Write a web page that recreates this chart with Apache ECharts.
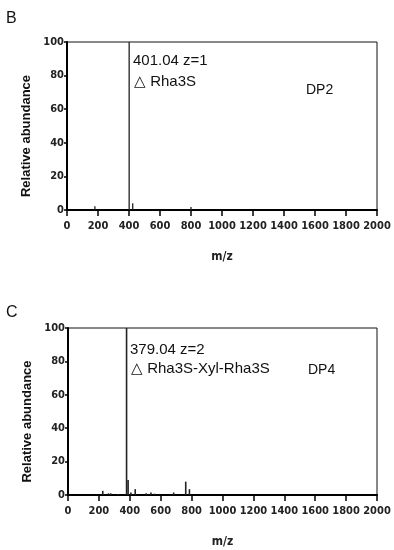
<!DOCTYPE html>
<html><head><meta charset="utf-8">
<script src="https://cdn.jsdelivr.net/npm/echarts@6/dist/echarts.min.js"></script>
<style>html,body{margin:0;padding:0;background:#fff}#c{width:394px;height:550px}</style>
</head><body><div id="c"></div>
<script>
// Data
const xTicks = [0,200,400,600,800,1000,1200,1400,1600,1800,2000];
const yTicks = [0,20,40,60,80,100];
const dp2MZ = [180, 401.04, 424, 800];
const dp2Abund = [2.2, 100, 4, 1.8];
const dp4MZ = [225, 262, 277, 325, 379.04, 389, 407, 435, 506, 537, 560, 684, 762, 786];
const dp4Abund = [2.5, 1, 1, 0.5, 100, 9, 1.5, 3.5, 1, 1.5, 0.8, 1.5, 8, 3.5];
const panelLabels = ['B','C'];
const peakTexts = [['401.04 z=1','\u25B3 Rha3S','DP2'],['379.04 z=2','\u25B3 Rha3S-Xyl-Rha3S','DP4']];

const condFont = '"Liberation Sans Narrow","DejaVu Sans Condensed",sans-serif';
const tickFont = {fontFamily:condFont, fontWeight:'bold', fontSize:11, color:'#222'};
function pairs(xs, ys){ return xs.map((x,i)=>[x, ys[i]]); }

const grids = [
  {left:67, top:42, width:310, height:168, show:true, borderColor:'#111', borderWidth:1},
  {left:68, top:328, width:309, height:167, show:true, borderColor:'#111', borderWidth:1}
];
function xAx(i){ return {type:'value', gridIndex:i, min:xTicks[0], max:xTicks[xTicks.length-1], interval:200,
  name:'m/z', nameLocation:'middle', nameGap:41,
  nameTextStyle:{fontFamily:condFont, fontWeight:'bold', fontSize:12, color:'#222'},
  axisLine:{show:true, onZero:false, lineStyle:{color:'#000', width:2}},
  axisTick:{show:true, inside:false, length:6, lineStyle:{color:'#000', width:1.5}},
  axisLabel:Object.assign({margin:11, formatter:function(v){return String(v);}}, tickFont), splitLine:{show:false}}; }
function yAx(i){ return {type:'value', gridIndex:i, min:yTicks[0], max:yTicks[yTicks.length-1], interval:20,
  name:'Relative abundance', nameLocation:'middle', nameRotate:90, nameGap:33,
  nameTextStyle:{fontFamily:'"Liberation Sans",Arial,sans-serif', fontWeight:'bold', fontSize:13, color:'#111', padding:[0,20,0,0]},
  axisLine:{show:true, lineStyle:{color:'#000', width:2}},
  axisTick:{show:true, inside:false, length:3, lineStyle:{color:'#000', width:1.5}},
  axisLabel:Object.assign({margin:3}, tickFont), splitLine:{show:false}}; }

const annFont = '"Liberation Sans",Arial,sans-serif';
const graphics = [
  {type:'text', left:6, top:11, style:{text:panelLabels[0], font:'16px '+annFont, fill:'#111'}},
  {type:'text', left:6, top:305, style:{text:panelLabels[1], font:'16px '+annFont, fill:'#111'}},
  {type:'text', left:133, top:53, style:{text:peakTexts[0][0], font:'15px '+annFont, fill:'#111'}},
  {type:'text', left:134, top:74, style:{text:peakTexts[0][1], font:'15px '+annFont, fill:'#111'}},
  {type:'text', left:306, top:83, style:{text:peakTexts[0][2], font:'14px '+annFont, fill:'#111'}},
  {type:'text', left:130, top:342, style:{text:peakTexts[1][0], font:'15px '+annFont, fill:'#111'}},
  {type:'text', left:131, top:361, style:{text:peakTexts[1][1], font:'15px '+annFont, fill:'#111'}},
  {type:'text', left:308, top:363, style:{text:peakTexts[1][2], font:'14px '+annFont, fill:'#111'}}
];

const chart = echarts.init(document.getElementById('c'), null, {renderer:'canvas'});
chart.setOption({
  animation:false,
  backgroundColor:'#fff',
  grid:grids,
  xAxis:[xAx(0), xAx(1)],
  yAxis:[yAx(0), yAx(1)],
  series:[
    {type:'bar', xAxisIndex:0, yAxisIndex:0, barWidth:1.3, itemStyle:{color:'#222'}, data:pairs(dp2MZ, dp2Abund)},
    {type:'bar', xAxisIndex:1, yAxisIndex:1, barWidth:1.6, itemStyle:{color:'#222'}, data:pairs(dp4MZ, dp4Abund)}
  ],
  graphic:graphics
});
</script></body></html>
